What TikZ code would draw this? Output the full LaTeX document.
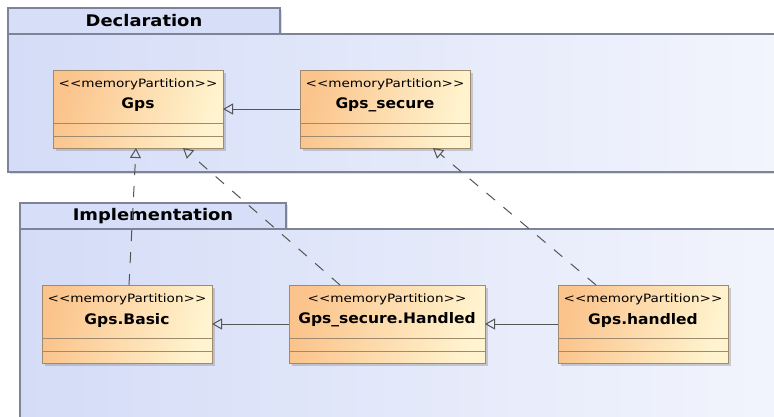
\documentclass[tikz,border=0pt]{standalone}
\usepackage{fontspec}
\usetikzlibrary{arrows.meta,shadows,calc}
\newfontfamily\stfont[FakeStretch=1.18]{DejaVu Sans}
\newfontfamily\nmfont[FakeStretch=1.07]{DejaVu Sans}
\newfontfamily\pkfont[FakeStretch=1.12]{DejaVu Sans}
\definecolor{pkgL}{HTML}{D4DCF7}
\definecolor{pkgR}{HTML}{F4F6FD}
\definecolor{tabC}{HTML}{D6DEF8}
\definecolor{pkgB}{HTML}{7E8498}
\definecolor{clsL}{HTML}{FBC48C}
\definecolor{clsR}{HTML}{FFF4CF}
\definecolor{clsB}{HTML}{A08A6E}
\definecolor{lnC}{HTML}{555555}
\tikzset{
  pkgtab/.style={draw=pkgB, line width=1.2pt, fill=tabC, inner sep=0pt, outer sep=0pt,
    anchor=north west, font=\pkfont\bfseries\fontsize{16}{16}\selectfont,
    drop shadow={shadow xshift=2pt, shadow yshift=-2pt, opacity=0.25}},
  pkgbody/.style={draw=pkgB, line width=1.2pt, left color=pkgL, right color=pkgR,
    inner sep=0pt, outer sep=0pt, anchor=north west,
    drop shadow={shadow xshift=2pt, shadow yshift=-2pt, opacity=0.25}},
  classbox/.style={draw=clsB, line width=1pt, left color=clsL, right color=clsR,
    shading angle=75, inner sep=0pt, outer sep=0pt, anchor=north west,
    minimum height=78pt,
    drop shadow={shadow xshift=2.5pt, shadow yshift=-2.5pt, opacity=0.35}},
  compline/.style={draw=clsB, line width=1pt},
  stereo/.style={font=\stfont\fontsize{11.5}{11.5}\selectfont, inner sep=0pt},
  cname/.style={font=\nmfont\bfseries\fontsize{14.5}{14.5}\selectfont, inner sep=0pt},
  gen/.style={draw=lnC, line width=1pt, -{Triangle[open, length=10pt, width=11pt]}},
  real/.style={gen, dash pattern=on 11pt off 11pt},
}
\newcommand\umlclass[5]{% id, x, y, width, name
  \node[classbox, minimum width=#4pt] (#1) at (#2,#3) {};
  \draw[compline] ([yshift=25pt]#1.south west) -- ([yshift=25pt]#1.south east);
  \draw[compline] ([yshift=12pt]#1.south west) -- ([yshift=12pt]#1.south east);
  \node[stereo] (#1-st) at ([yshift=-14pt]#1.north) {<<memoryPartition>>};
  \node[cname] (#1-nm) at ([yshift=-35pt]#1.north) {#5};
}
\begin{document}
\begin{tikzpicture}[x=1pt, y=-1pt]
\useasboundingbox (0,0) rectangle (774,416);
\clip (0,0) rectangle (774,416);
\fill[white] (0,0) rectangle (774,416);

% Declaration package
\node[pkgtab, minimum width=272pt, minimum height=26pt] (dtab) at (8,8) {Declaration};
\node[pkgbody, minimum width=800pt, minimum height=138pt] (dbody) at (8,34) {};

% Implementation package
\node[pkgtab, minimum width=266pt, minimum height=26pt] (itab) at (20,203) {Implementation};
\node[pkgbody, minimum width=800pt, minimum height=230pt] (ibody) at (20,229) {};

% classes
\umlclass{gps}{53}{70}{170}{Gps}
\umlclass{gsec}{300}{70}{170}{Gps\_secure}
\umlclass{gbasic}{42}{285}{170}{Gps.Basic}
\umlclass{gsh}{289}{285}{196}{Gps\_secure.Handled}
\umlclass{ghd}{558}{285}{170}{Gps.handled}

% generalizations
\draw[gen] (gsec.west) -- (gps.east);
\draw[gen] (gsh.west) -- (gbasic.east);
\draw[gen] (ghd.west) -- (gsh.east);

% realizations (dashed)
\draw[real] ([xshift=2pt]gbasic.north) -- ([xshift=-2pt]gps.south);
\draw[real] ([xshift=-47pt]gsh.north) -- ([xshift=45pt]gps.south);
\draw[real] ([xshift=-47pt]ghd.north) -- ([xshift=48pt]gsec.south);
\end{tikzpicture}
\end{document}
